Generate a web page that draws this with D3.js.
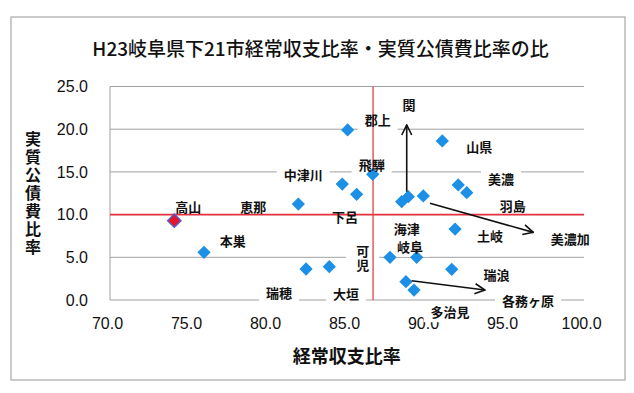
<!DOCTYPE html>
<html><head><meta charset="utf-8">
<script src="https://cdn.jsdelivr.net/npm/d3@7"></script>
<style>body{margin:0;background:#fff}</style>
</head><body>
<svg id="c" width="634" height="393"></svg>
<script>
// ---- data ----
const title = "H23岐阜県下21市経常収支比率・実質公債費比率の比";
const xTitle = "経常収支比率";
const yTitle = "実質公債費比率";
const xTicks = [70, 75, 80, 85, 90, 95, 100];
const yTicks = [0, 5, 10, 15, 20, 25];
// 経常収支比率 (x) and 実質公債費比率 (y) for the 21 cities
const keijo  = [74.07, 75.95, 85.04, 86.63, 84.70, 85.61, 81.92, 88.46, 88.88, 89.83, 91.03, 92.04, 92.58, 91.84, 87.72, 89.41, 82.41, 83.88, 91.63, 88.73, 89.24];
const kousai = [9.29, 5.58, 19.91, 14.72, 13.58, 12.38, 11.24, 11.51, 12.10, 12.18, 18.62, 13.47, 12.56, 8.31, 5.00, 5.00, 3.63, 3.90, 3.59, 2.14, 1.17];
const highlightIndex = 0; // 高山
// average lines
const avgX = 86.65, avgY = 10.0;
// city labels (placed in data coordinates); vertical ones are written top-to-bottom
const labelNames = ["高山","恵那","本巣","中津川","瑞穂","関","郡上","飛騨","下呂","海津","岐阜","可児","大垣","多治見","山県","美濃","羽島","土岐","美濃加","瑞浪","各務ヶ原"];
const labelVertical = ["可児"];
const labelX = [74.96, 79.07, 77.77, 82.23, 80.70, 88.92, 86.94, 86.56, 84.87, 88.78, 88.99, 85.99, 84.94, 91.52, 93.37, 94.75, 95.49, 94.05, 99.13, 94.47, 96.46];
const labelY = [10.92, 10.92, 6.91, 14.64, 0.88, 22.95, 21.08, 15.89, 9.75, 8.40, 6.32, 4.88, 0.78, -1.37, 17.95, 14.17, 11.12, 7.53, 7.22, 2.93, 0.0];
// arrows
const arrowFromX = [88.78, 90.25, 89.09];
const arrowFromY = [12.68, 11.32, 2.26];
const arrowToX   = [88.78, 96.79, 93.73];
const arrowToY   = [20.49, 7.92, 1.17];

// ---- drawing ----
const svg = d3.select("#c");
const x = d3.scaleLinear().domain([70, 100]).range([110, 584]);
const y = d3.scaleLinear().domain([0, 25]).range([300, 86.5]);
const jp = "'Noto Sans CJK JP','Noto Sans',sans-serif";
const num = "'Liberation Sans',Arial,sans-serif";

svg.append("rect").attr("x", 11).attr("y", 17).attr("width", 614).attr("height", 363)
  .attr("fill", "#fff").attr("stroke", "#a8a8a8").attr("stroke-width", 1.2);

svg.append("text").attr("x", 320.5).attr("y", 47).attr("text-anchor", "middle")
  .attr("dominant-baseline", "central").attr("font-family", jp).attr("font-size", 19)
  .attr("font-weight", 500).attr("fill", "#111").text(title);

const defs = svg.append("defs");
defs.append("marker").attr("id", "ah").attr("viewBox", "0 0 12 12")
  .attr("refX", 11).attr("refY", 6).attr("markerWidth", 12).attr("markerHeight", 12)
  .attr("markerUnits", "userSpaceOnUse").attr("orient", "auto")
  .append("path").attr("d", "M1,1 L11,6 L1,11").attr("fill", "none")
  .attr("stroke", "#111").attr("stroke-width", 1.6);

// gridlines
const gGrid = svg.append("g");
gGrid.selectAll("line").data(yTicks).join("line")
  .attr("x1", x(70)).attr("x2", x(100)).attr("y1", d => y(d)).attr("y2", d => y(d))
  .attr("stroke", "#a0a0a0").attr("stroke-width", 1);
gGrid.append("line").attr("x1", x(70)).attr("x2", x(70)).attr("y1", y(25)).attr("y2", y(0))
  .attr("stroke", "#a0a0a0").attr("stroke-width", 1);

// axes labels
const ax = svg.append("g").attr("transform", `translate(0,${y(0)})`)
  .call(d3.axisBottom(x).tickValues(xTicks).tickFormat(d3.format(".1f")).tickSize(0).tickPadding(18));
ax.select(".domain").remove();
ax.selectAll("text").attr("font-family", num).attr("font-size", 16).attr("fill", "#111").attr("dx", -3);

const ay = svg.append("g").attr("transform", `translate(${x(70)},0)`)
  .call(d3.axisLeft(y).tickValues(yTicks).tickFormat(d3.format(".1f")).tickSize(0).tickPadding(22));
ay.select(".domain").remove();
ay.selectAll("text").attr("font-family", num).attr("font-size", 16).attr("fill", "#111");

svg.append("text").attr("x", 346.7).attr("y", 355).attr("text-anchor", "middle")
  .attr("dominant-baseline", "central").attr("font-family", jp).attr("font-size", 18)
  .attr("font-weight", 700).attr("fill", "#111").text(xTitle);
svg.append("text").attr("x", 33).attr("y", 193.5).attr("text-anchor", "middle")
  .style("writing-mode", "vertical-rl").style("text-orientation", "upright")
  .attr("letter-spacing", 2).attr("font-family", jp).attr("font-size", 16)
  .attr("font-weight", 700).attr("fill", "#111").text(yTitle);

// label layers
const gBg = svg.append("g");
const gRed = svg.append("g");
const gPts = svg.append("g");
const gLab = svg.append("g");
const gArr = svg.append("g");

// red average lines
gRed.append("line").attr("x1", x(70)).attr("x2", x(100)).attr("y1", y(avgY)).attr("y2", y(avgY))
  .attr("stroke", "#e5303e").attr("stroke-width", 1.6);
gRed.append("line").attr("x1", x(avgX)).attr("x2", x(avgX)).attr("y1", y(25)).attr("y2", y(0))
  .attr("stroke", "#e0404c").attr("stroke-width", 1.3);

// points
const pts = keijo.map((v, i) => ({x: v, y: kousai[i], hi: i === highlightIndex}));
const sym = d3.symbol(d3.symbolSquare, 88);
gPts.selectAll("path").data(pts).join("path")
  .attr("d", sym)
  .attr("transform", d => `translate(${x(d.x)},${y(d.y)}) rotate(45)`)
  .attr("fill", d => d.hi ? "#e8142c" : "#1c90e6")
  .attr("stroke", d => d.hi ? "#5a5ac8" : "none").attr("stroke-width", 1.5);

// labels with white boxes
labelNames.forEach((name, i) => {
  const cx = x(labelX[i]), cy = y(labelY[i]);
  const t = gLab.append("text").attr("x", cx).attr("y", cy).attr("text-anchor", "middle")
    .attr("font-family", jp).attr("font-size", 13).attr("font-weight", 700).attr("fill", "#111");
  if (labelVertical.includes(name)) {
    t.style("writing-mode", "vertical-rl").style("text-orientation", "upright").attr("letter-spacing", 1);
  } else {
    t.attr("dominant-baseline", "central");
  }
  t.text(name);
  const bb = t.node().getBBox();
  gBg.append("rect").attr("x", bb.x - 7).attr("y", bb.y - 1).attr("width", bb.width + 14)
    .attr("height", bb.height + 2).attr("fill", "#fff");
});

// arrows
gArr.selectAll("line").data(arrowFromX.map((v, i) => i)).join("line")
  .attr("x1", i => x(arrowFromX[i])).attr("y1", i => y(arrowFromY[i]))
  .attr("x2", i => x(arrowToX[i])).attr("y2", i => y(arrowToY[i]))
  .attr("stroke", "#111").attr("stroke-width", 1.6).attr("marker-end", "url(#ah)");
</script>
</body></html>
